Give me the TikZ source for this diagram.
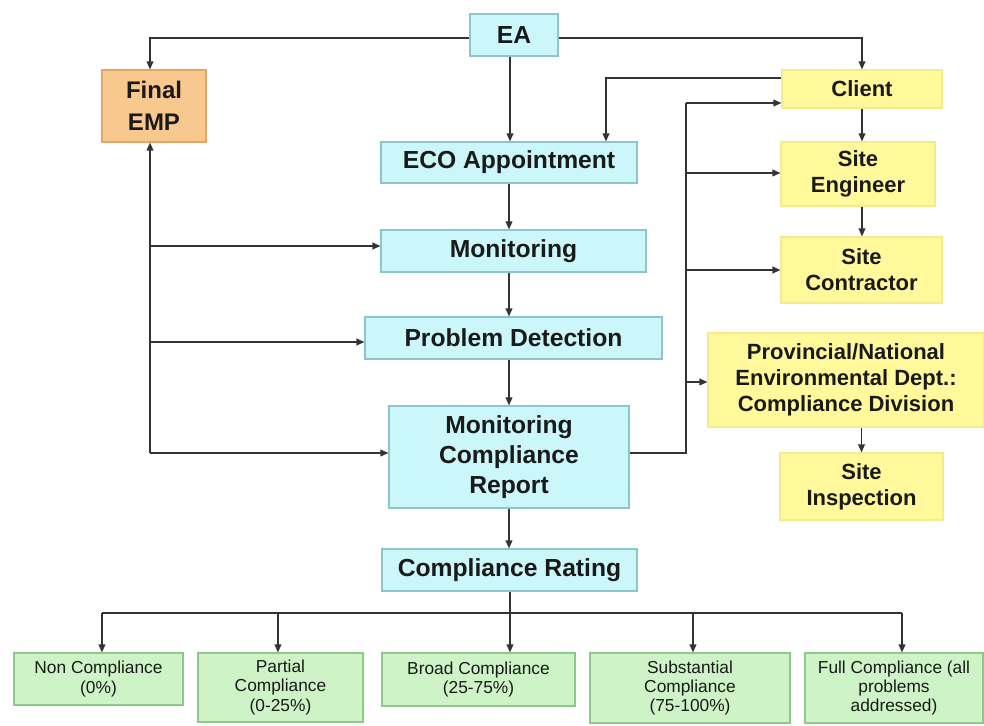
\documentclass[tikz,border=0pt]{standalone}
\usepackage{fontspec}
\setmainfont{Liberation Sans}
\usetikzlibrary{arrows.meta,calc}
\definecolor{cyanfill}{HTML}{CCF7FA}
\definecolor{cyanline}{HTML}{8CC6CB}
\definecolor{yelfill}{HTML}{FFF99C}
\definecolor{yelline}{HTML}{F2EC8C}
\definecolor{orfill}{HTML}{F9C88E}
\definecolor{orline}{HTML}{E3A766}
\definecolor{grfill}{HTML}{CDF3C6}
\definecolor{grline}{HTML}{8FC88A}
\definecolor{txt}{HTML}{1A1A1A}
\definecolor{ln}{HTML}{333333}
\tikzset{
  basebox/.style={draw, line width=0.8pt, inner sep=0pt, align=center, text=txt},
  cyanbox/.style={basebox, fill=cyanfill, draw=cyanline, font=\fontsize{18.5}{22.5}\selectfont\bfseries},
  yelbox/.style={basebox, fill=yelfill, draw=yelline, font=\fontsize{16.5}{19.5}\selectfont\bfseries},
  orbox/.style={basebox, fill=orfill, draw=orline, font=\fontsize{18}{24}\selectfont\bfseries},
  grbox/.style={basebox, fill=grfill, draw=grline, font=\fontsize{13}{14.5}\selectfont},
  conn/.style={draw=ln, line width=1pt},
  arr/.style={conn, -{Triangle[length=6pt,width=5pt]}},
}
\begin{document}
\begin{tikzpicture}[x=0.75pt,y=-0.75pt]
\useasboundingbox[fill=white] (0,0) rectangle (984,725);
% nodes
\node[cyanbox, minimum width=66pt, minimum height=31.5pt] (ea) at (514,35) {EA};
\node[orbox, minimum width=78pt, minimum height=54pt] (emp) at (154,106) {Final\\EMP};
\node[yelbox, minimum width=120pt, minimum height=28.5pt] (client) at (862,89) {Client};
\node[cyanbox, minimum width=192pt, minimum height=30.75pt] (eco) at (509,162.5) {ECO Appointment};
\node[cyanbox, minimum width=198.75pt, minimum height=31.5pt] (mon) at (513.5,251) {Monitoring};
\node[cyanbox, minimum width=222.75pt, minimum height=31.5pt] (prob) at (513.5,338) {Problem Detection};
\node[cyanbox, minimum width=180pt, minimum height=76.5pt] (rep) at (509,457) {Monitoring\\Compliance\\Report};
\node[cyanbox, minimum width=191.25pt, minimum height=31.5pt] (rate) at (509.5,570) {Compliance Rating};
\node[yelbox, minimum width=115.5pt, minimum height=48pt] (se) at (858,174) {Site\\Engineer};
\node[yelbox, minimum width=120.75pt, minimum height=49.5pt] (sc) at (861.5,270) {Site\\Contractor};
\node[yelbox, minimum width=207pt, minimum height=70.5pt] (prov) at (846,380) {Provincial/National\\Environmental Dept.:\\Compliance Division};
\node[yelbox, minimum width=122.25pt, minimum height=50.25pt] (insp) at (861.5,486.5) {Site\\Inspection};
\node[grbox, minimum width=126.75pt, minimum height=39pt] (non) at (98.5,679) {Non Compliance\\(0\%)};
\node[grbox, minimum width=123.75pt, minimum height=51.75pt] (part) at (280.5,687.5) {Partial\\Compliance\\(0-25\%)};
\node[grbox, minimum width=144.75pt, minimum height=39.75pt] (broad) at (478.5,679.5) {Broad Compliance\\(25-75\%)};
\node[grbox, minimum width=150pt, minimum height=52.5pt] (sub) at (690,688) {Substantial\\Compliance\\(75-100\%)};
\node[grbox, minimum width=133.5pt, minimum height=52.5pt] (full) at (894,688) {Full Compliance (all\\problems\\addressed)};
% top connectors
\draw[arr] ([yshift=-2.25pt]ea.west) -| ([xshift=-3pt]emp.north);
\draw[arr] ([yshift=-2.25pt]ea.east) -| (client.north);
\draw[arr] ([xshift=-3pt]ea.south) -- ([xshift=-3pt]ea.south |- eco.north);
\draw[arr] ([yshift=8.25pt]client.west) -| ($(eco.north)+(97,0)$);
% main column
\draw[arr] (eco.south) -- (eco.south |- mon.north);
\draw[arr] (eco.south |- mon.south) -- (eco.south |- prob.north);
\draw[arr] (eco.south |- prob.south) -- (eco.south |- rep.north);
\draw[arr] (rep.south) -- (rep.south |- rate.north);
% left bus
\coordinate (lb) at (150,453);
\draw[arr] (lb) -- ([xshift=-3pt]emp.south);
\draw[arr] (lb) -- (lb -| rep.west);
\draw[arr] (lb |- 0,246) -- (mon.west |- 0,246);
\draw[arr] (lb |- 0,342) -- (prob.west |- 0,342);
% right bus
\coordinate (rb) at (686,453);
\draw[conn] (rep.east |- rb) -- (rb) -- (686,103);
\draw[arr] (686,103) -- (client.west |- 0,103);
\draw[arr] (rb |- 0,173) -- (se.west |- 0,173);
\draw[arr] (rb |- sc.west) -- (sc.west);
\draw[arr] (rb |- 0,382) -- (prov.west |- 0,382);
\draw[arr] (client.south -| 862,0) -- (se.north -| 862,0);
\draw[arr] (se.south -| 862,0) -- (sc.north -| 862,0);
\draw[arr] (prov.south -| insp.north) -- (insp.north);
% bottom bus
\coordinate (bb) at (510,613);
\draw[conn] (rate.south -| bb) -- (bb);
\draw[conn] (102,613) -- (902,613);
\draw[arr] ([xshift=2.6pt]non.north |- bb) -- ([xshift=2.6pt]non.north);
\draw[arr] ([xshift=-1.9pt]part.north |- bb) -- ([xshift=-1.9pt]part.north);
\draw[arr] (bb) -- (bb |- broad.north);
\draw[arr] ([xshift=2.25pt]sub.north |- bb) -- ([xshift=2.25pt]sub.north);
\draw[arr] ([xshift=6pt]full.north |- bb) -- ([xshift=6pt]full.north);
\end{tikzpicture}
\end{document}
